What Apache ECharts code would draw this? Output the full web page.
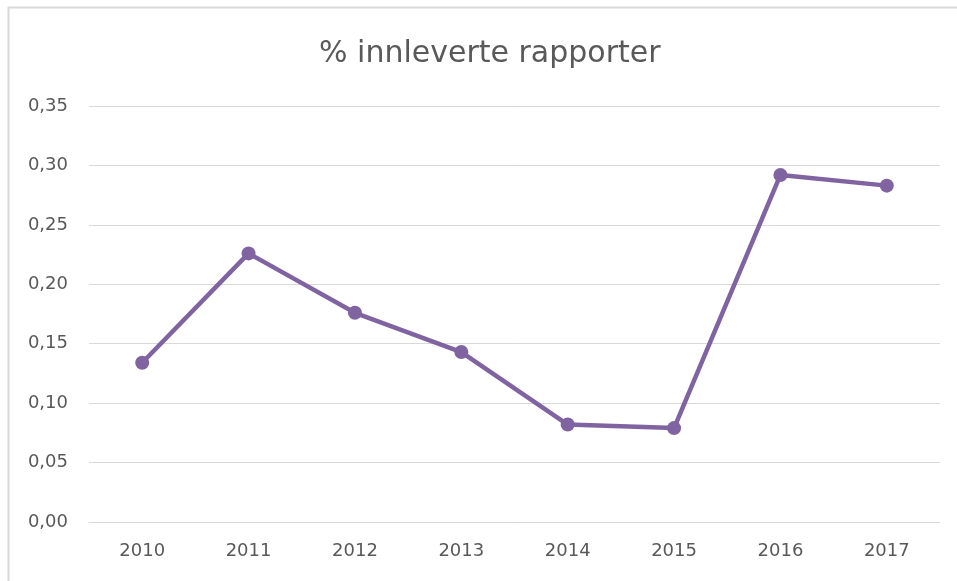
<!DOCTYPE html>
<html lang="no">
<head>
    <meta charset="utf-8">
    <title>% innleverte rapporter</title>
    <script src="https://cdn.jsdelivr.net/npm/echarts@6/dist/echarts.min.js"></script>
    <style>
        html, body { margin: 0; padding: 0; background: #fff; }
    </style>
</head>
<body>
<div id="chart" style="width: 957px;height:581px;"></div>

<script>
    // data
    let years = ['2010', '2011', '2012', '2013', '2014', '2015', '2016', '2017'];
    let andel = [0.134, 0.226, 0.176, 0.143, 0.082, 0.079, 0.292, 0.283];
    let yTicks = [0, 0.05, 0.10, 0.15, 0.20, 0.25, 0.30, 0.35];

    let myChart = echarts.init(document.getElementById('chart'));
    let labelFont = 'DejaVu Sans';

    let option = {
        animation: false,
        backgroundColor: '#fff',
        graphic: [{
            type: 'rect',
            left: 6, top: 5,
            shape: {width: 1000, height: 1000},
            style: {fill: 'none', stroke: '#d9d9d9', lineWidth: 2}
        }],
        title: {
            text: '% innleverte rapporter',
            left: 319,
            top: 39,
            padding: 0,
            textStyle: {fontFamily: labelFont, fontSize: 30, fontWeight: 'normal', color: '#595959'}
        },
        grid: {left: 89, right: 17, top: 106, bottom: 59},
        xAxis: {
            type: 'category',
            data: years,
            boundaryGap: true,
            axisLine: {lineStyle: {color: '#d9d9d9', width: 1}},
            axisTick: {show: false},
            axisLabel: {margin: 20, fontFamily: labelFont, fontSize: 18, color: '#595959'}
        },
        yAxis: {
            type: 'value',
            min: yTicks[0],
            max: yTicks[yTicks.length - 1],
            interval: 0.05,
            axisLine: {show: false},
            axisTick: {show: false},
            splitLine: {lineStyle: {color: '#d9d9d9', width: 1}},
            axisLabel: {
                margin: 21, fontFamily: labelFont, fontSize: 18, color: '#595959',
                formatter: function (v) { return v.toFixed(2).replace('.', ','); }
            }
        },
        series: [{
            name: '% innleverte rapporter',
            type: 'line',
            data: andel,
            symbol: 'circle',
            symbolSize: 14,
            lineStyle: {color: '#8064a2', width: 4.5},
            itemStyle: {color: '#8064a2'}
        }]
    };
    myChart.setOption(option);
</script>
</body>
</html>
